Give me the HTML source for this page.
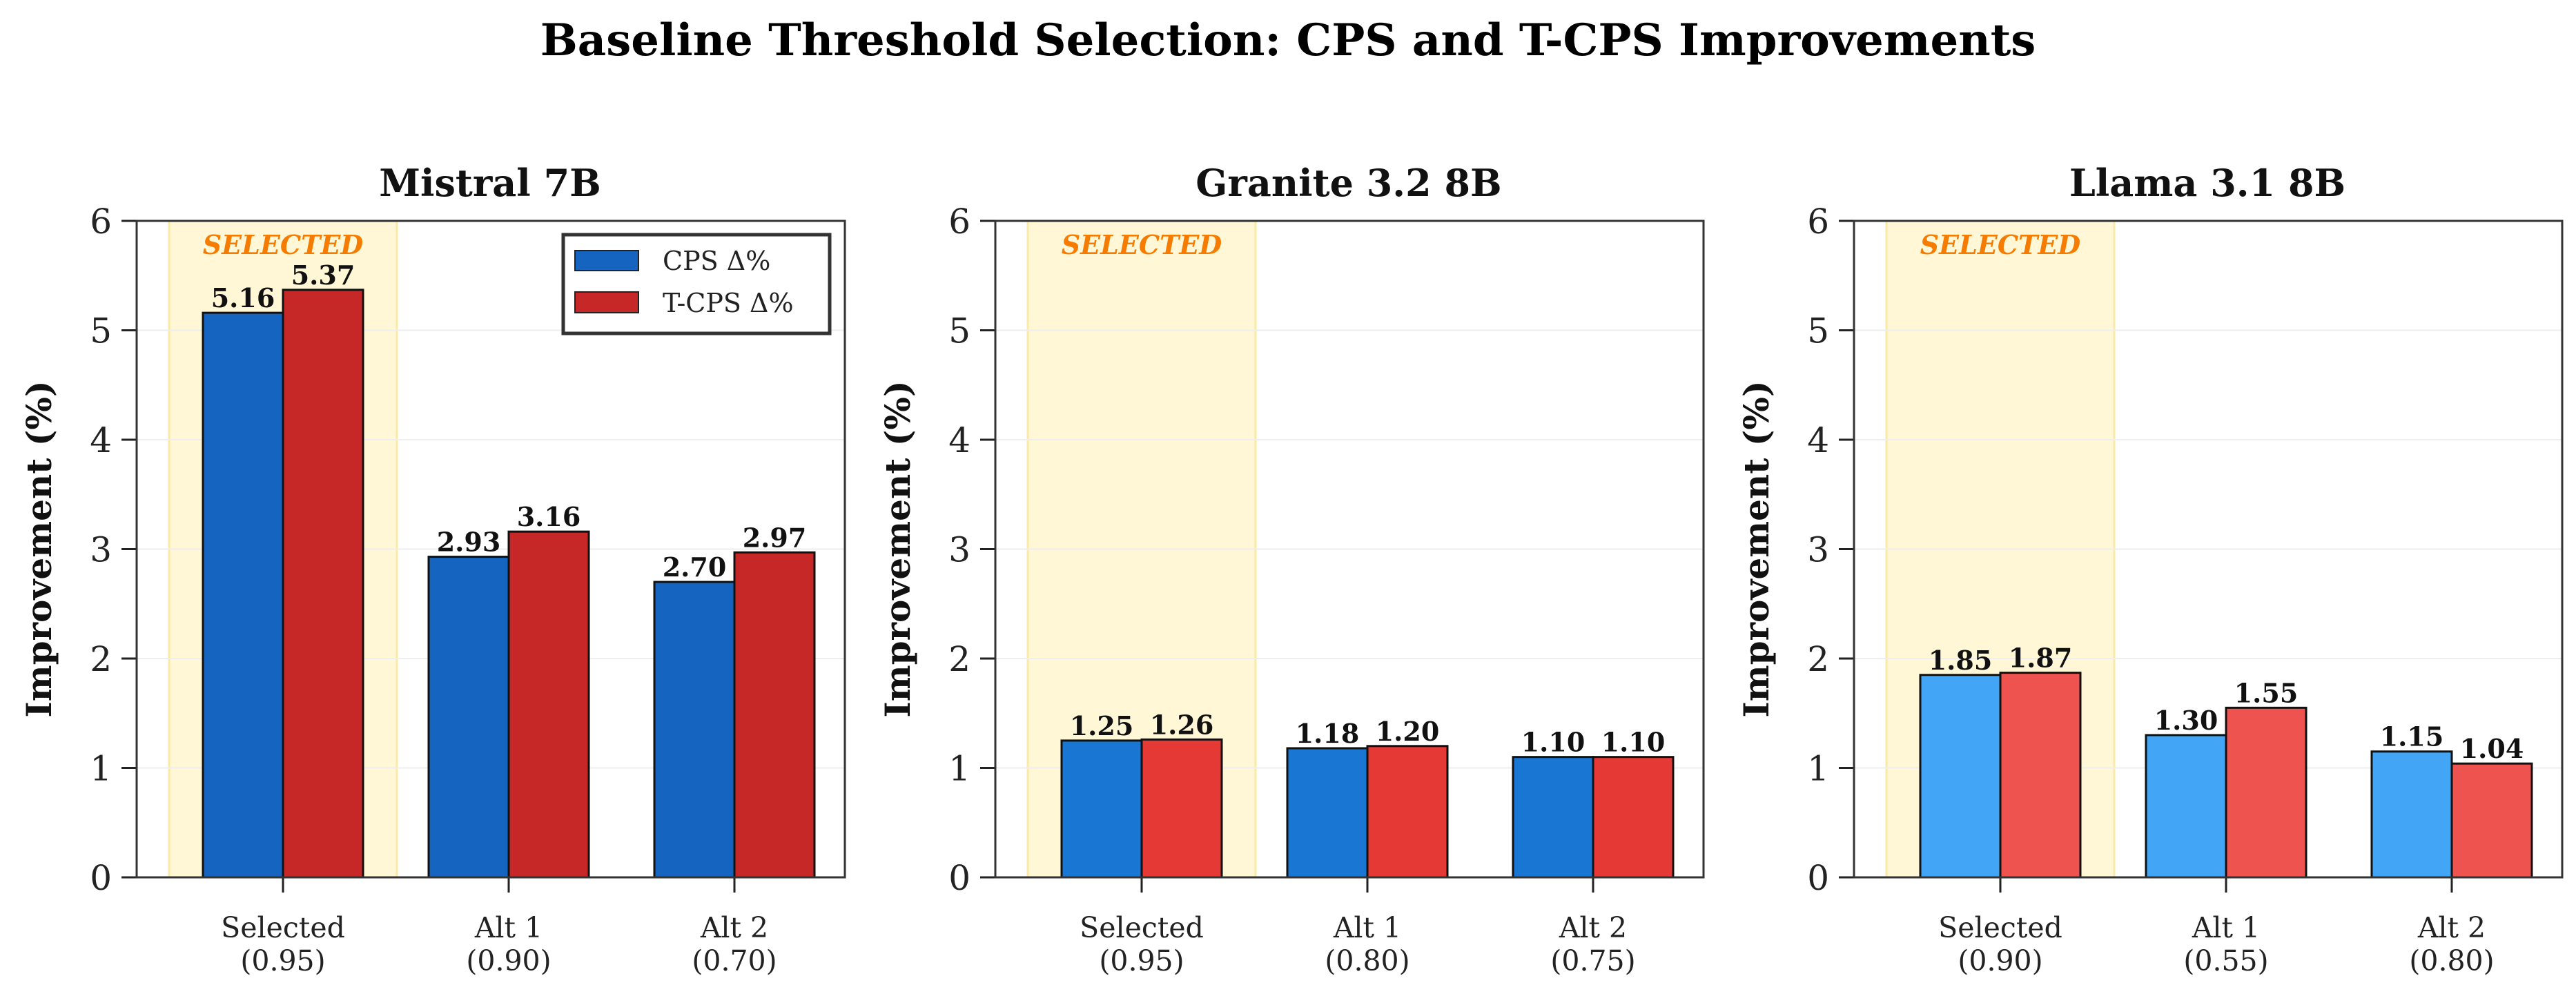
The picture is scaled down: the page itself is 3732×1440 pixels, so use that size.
<!DOCTYPE html>
<html><head><meta charset="utf-8"><style>
html,body{margin:0;padding:0;background:#fff;}
svg{display:block;font-family:"DejaVu Serif","Liberation Serif",serif;}
</style></head><body>
<svg id="fig" width="3732" height="1440" viewBox="0 0 3732 1440" xmlns="http://www.w3.org/2000/svg">
<rect width="3732" height="1440" fill="#fff"/>
<text x="1866" y="80" font-size="64" font-weight="bold" text-anchor="middle">Baseline Threshold Selection: CPS and T-CPS Improvements</text>
</svg>
<script>
const models = ["Mistral 7B", "Granite 3.2 8B", "Llama 3.1 8B"];
const categories = [["Selected","(0.95)","Alt 1","(0.90)","Alt 2","(0.70)"],["Selected","(0.95)","Alt 1","(0.80)","Alt 2","(0.75)"],["Selected","(0.90)","Alt 1","(0.55)","Alt 2","(0.80)"]];
const cpsValues = [[5.16,2.93,2.70],[1.25,1.18,1.10],[1.85,1.30,1.15]];
const tcpsValues = [[5.37,3.16,2.97],[1.26,1.20,1.10],[1.87,1.55,1.04]];
const yTicks = [0,1,2,3,4,5,6];
const cpsColors = ["#1565C0","#1976D2","#42A5F5"];
const tcpsColors = ["#C62828","#E53935","#EF5350"];

const NS = "http://www.w3.org/2000/svg";
const svg = document.getElementById('fig');
function mk(tag, attrs, parent){const e=document.createElementNS(NS,tag);for(const k in attrs)e.setAttribute(k,attrs[k]);(parent||svg).appendChild(e);return e;}

const panelLefts = [198,1442,2686];
const W = 1026, yTop = 320, yBottom = 1271, yMax = 6;
function yScale(v){return yBottom - (v/yMax)*(yBottom-yTop);}
const catStep = 327, barW = 116;

models.forEach((m,p)=>{
  const L = panelLefts[p];
  const g = mk('g',{});
  
  
  function xCenter(i){return L + 212 + i*catStep;}
  const hl = mk('rect',{x:xCenter(0)-165,y:yTop,width:330,height:yBottom-yTop,fill:'#FFF7D6',stroke:'#FBEAA5','stroke-width':3},g);
  
  
  const st = mk('text',{x:xCenter(0),y:368,'font-size':38,'font-weight':'bold','font-style':'italic',fill:'#F57C00','text-anchor':'middle'},g);
  st.textContent='SELECTED';
  
  
  yTicks.forEach(t=>{
    if(t>0&&t<6){const gl=mk('line',{x1:L,x2:L+W,y1:yScale(t),y2:yScale(t),stroke:'#eee','stroke-width':2},g);
      
      }
    const tk=mk('line',{x1:L-22,x2:L,y1:yScale(t),y2:yScale(t),stroke:'#222','stroke-width':3},g);
    
    
    const tl=mk('text',{x:L-36,y:yScale(t)+18,'font-size':50,'text-anchor':'end',fill:'#222'},g);
    tl.textContent=t;
    
    
  });
  for(let i=0;i<3;i++){
    const c=xCenter(i);
    [[cpsValues[p][i],cpsColors[p],c-barW,'cps'],[tcpsValues[p][i],tcpsColors[p],c,'tcps']].forEach(([v,col,x,s])=>{
      const r=mk('rect',{x:x,y:yScale(v),width:barW,height:yBottom-yScale(v),fill:col,stroke:'#111','stroke-width':3},g);
      
      
      const vl=mk('text',{x:x+barW/2,y:yScale(v)-8,'font-size':38,'font-weight':'bold','text-anchor':'middle',fill:'#111'},g);
      vl.textContent=v.toFixed(2);
      
      
    });
    const xt=mk('line',{x1:c,x2:c,y1:yBottom,y2:yBottom+22,stroke:'#222','stroke-width':3},g);
    
    
    const l1=mk('text',{x:c,y:1358,'font-size':41,'text-anchor':'middle',fill:'#222'},g);
    l1.textContent=categories[p][i*2];
    
    
    const l2=mk('text',{x:c,y:1406,'font-size':41,'text-anchor':'middle',fill:'#222'},g);
    l2.textContent=categories[p][i*2+1];
    
    
  }
  const fr=mk('rect',{x:L,y:yTop,width:W,height:yBottom-yTop,fill:'none',stroke:'#333','stroke-width':3},g);
  
  
  const tt=mk('text',{x:L+512,y:284,'font-size':54,'font-weight':'bold','text-anchor':'middle',fill:'#111'},g);
  tt.textContent=m;
  
  
  const yl=mk('text',{x:0,y:0,'font-size':50,'font-weight':'bold','text-anchor':'middle',fill:'#111',transform:'translate('+(L-124)+','+((yTop+yBottom)/2)+') rotate(-90)'},g);
  yl.textContent='Improvement (%)';
  
  
});
const lg=mk('g',{});


mk('rect',{x:816,y:340,width:386,height:143,fill:'#fff',stroke:'#333','stroke-width':5},lg);
const lr1=mk('rect',{x:833,y:363,width:92,height:29,fill:cpsColors[0],stroke:'#222','stroke-width':2},lg);


const lr2=mk('rect',{x:833,y:423,width:92,height:30,fill:tcpsColors[0],stroke:'#222','stroke-width':2},lg);


const lt1=mk('text',{x:960,y:391,'font-size':38,fill:'#222'},lg);
lt1.textContent='CPS Δ%';


const lt2=mk('text',{x:960,y:452,'font-size':38,fill:'#222'},lg);
lt2.textContent='T-CPS Δ%';


</script>
</body></html>
